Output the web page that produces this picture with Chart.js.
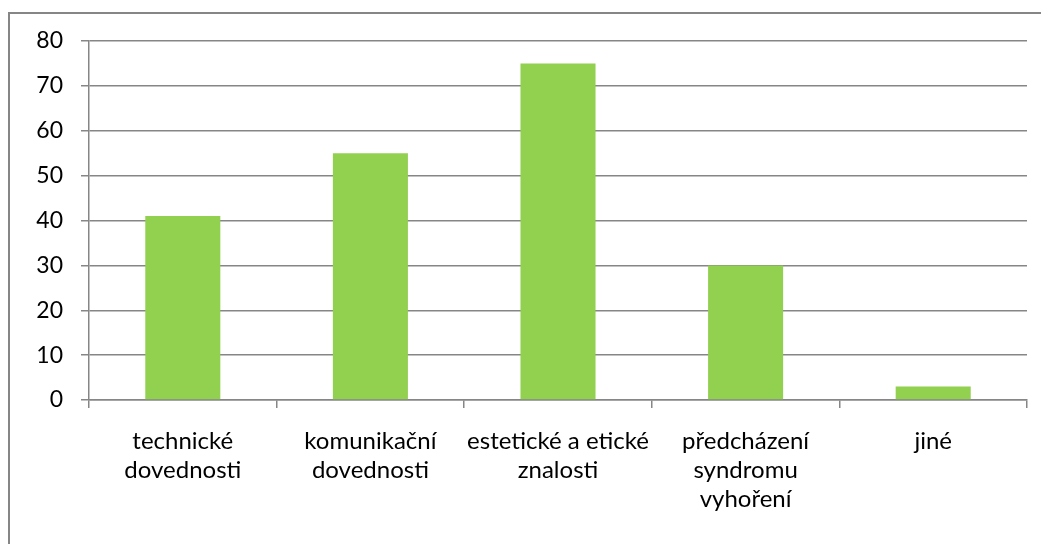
<!DOCTYPE html>
<html>
<head>
<meta charset="utf-8">
<script src="https://cdn.jsdelivr.net/npm/chart.js@4.4.0/dist/chart.umd.min.js"></script>
<style>
html,body{margin:0;padding:0;background:#fff;}
#wrap{position:relative;width:1041px;height:544px;}
</style>
</head>
<body>
<div id="wrap"><canvas id="c" width="1041" height="544"></canvas></div>
<script>
const categories = [
  ["technické", "dovednosti"],
  ["komunikační", "dovednosti"],
  ["estetické a etické", "znalosti"],
  ["předcházení", "syndromu", "vyhoření"],
  ["jiné"]
];
const values = [41, 55, 75, 30, 3];
const yTicks = [0, 10, 20, 30, 40, 50, 60, 70, 80];

const FONT = "Lato, 'Open Sans', sans-serif";
const GRAY = '#868686';

const borderPlugin = {
  id: 'outerBorder',
  beforeDraw(chart) {
    const ctx = chart.ctx;
    ctx.save();
    ctx.fillStyle = '#fff';
    ctx.fillRect(0, 0, chart.width, chart.height);
    ctx.strokeStyle = GRAY;
    ctx.lineWidth = 2;
    ctx.strokeRect(9, 13, 1200, 700);
    ctx.restore();
  }
};

new Chart(document.getElementById('c'), {
  type: 'bar',
  data: {
    labels: categories,
    datasets: [{
      data: values,
      backgroundColor: '#92D050',
      borderWidth: 0,
      barPercentage: 0.4,
      categoryPercentage: 1.0
    }]
  },
  options: {
    responsive: false,
    animation: false,
    devicePixelRatio: 1,
    layout: { padding: { top: 41, right: 14, left: 0, bottom: 0 } },
    plugins: { legend: { display: false }, tooltip: { enabled: false } },
    scales: {
      x: {
        offset: true,
        grid: { display: true, drawOnChartArea: false, drawTicks: true, tickLength: 8, color: GRAY, lineWidth: 1.5, offset: true },
        border: { display: true, color: GRAY, width: 1.5 },
        ticks: { color: '#000', font: { family: FONT, size: 24, lineHeight: '29px' }, padding: 19, maxRotation: 0, autoSkip: false },
        afterFit(scale) { scale.height = 144; }
      },
      y: {
        min: 0, max: 80,
        afterBuildTicks(scale) { scale.ticks = yTicks.map(v => ({ value: v })); },
        grid: { color: GRAY, lineWidth: 1.5, tickLength: 8 },
        border: { display: true, color: GRAY, width: 1.5 },
        ticks: { color: '#000', font: { family: FONT, size: 23 }, padding: 18 },
        afterFit(scale) { scale.width = 89; }
      }
    }
  },
  plugins: [borderPlugin]
});
</script>
</body>
</html>
